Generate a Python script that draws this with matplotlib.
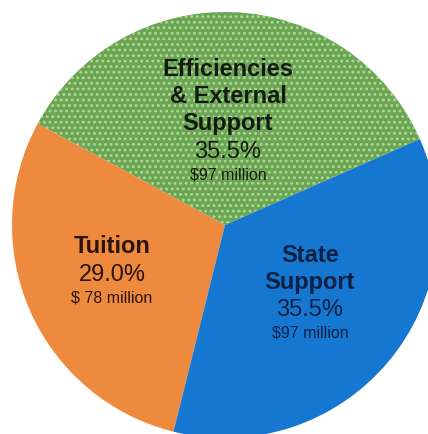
import matplotlib
matplotlib.use("Agg")
import matplotlib.pyplot as plt

categories = ["Efficiencies\n& External\nSupport", "Tuition", "State\nSupport"]
shares = [35.5, 29.0, 35.5]
amount_labels = ["$97 million", "$ 78 million", "$97 million"]
colors = ["#69a553", "#ee8a3e", "#1577cf"]
text_colors = ["#151a12", "#2a140a", "#0c1f45"]

W, H = 428, 434
R = 213.0
cx, cy = 225.0, 225.0

plt.rcParams["hatch.linewidth"] = 1.3
fig = plt.figure(figsize=(W / 100, H / 100), dpi=100)
ax = fig.add_axes([0, 0, 1, 1])
wedges, _ = ax.pie(shares, colors=colors, startangle=23.8, counterclock=True,
                   radius=1.0, wedgeprops=dict(linewidth=0))
wedges[0].set_hatch("...")
wedges[0].set_edgecolor("#b3d696")
wedges[0].set_linewidth(0)

ax.set_xlim(-cx / R, (W - cx) / R)
ax.set_ylim(-(H - cy) / R, cy / R)
ax.set_aspect("equal")
ax.axis("off")

def px(x, y):
    return (x - cx) / R, (cy - y) / R

# label anchor (center x, first-line y) and line spacing in pixels
anchors = [(228, 70), (112, 247), (310, 255)]
line_gap = 27
font = "Liberation Sans"
for i, (lab, pct, amt) in enumerate(zip(categories, shares, amount_labels)):
    ax_x, y0 = anchors[i]
    lines = lab.split("\n")
    y = y0
    for ln in lines:
        ax.text(*px(ax_x, y), ln, ha="center", va="center", fontsize=17,
                fontweight="bold", family=font, color=text_colors[i])
        y += line_gap
    y += 1
    ax.text(*px(ax_x, y), f"{pct:.1f}%", ha="center", va="center", fontsize=17,
            family=font, color=text_colors[i])
    y += 23
    ax.text(*px(ax_x, y), amt, ha="center", va="center", fontsize=11.5,
            family=font, color=text_colors[i])

fig.savefig("out.png", dpi=100, facecolor="white")
